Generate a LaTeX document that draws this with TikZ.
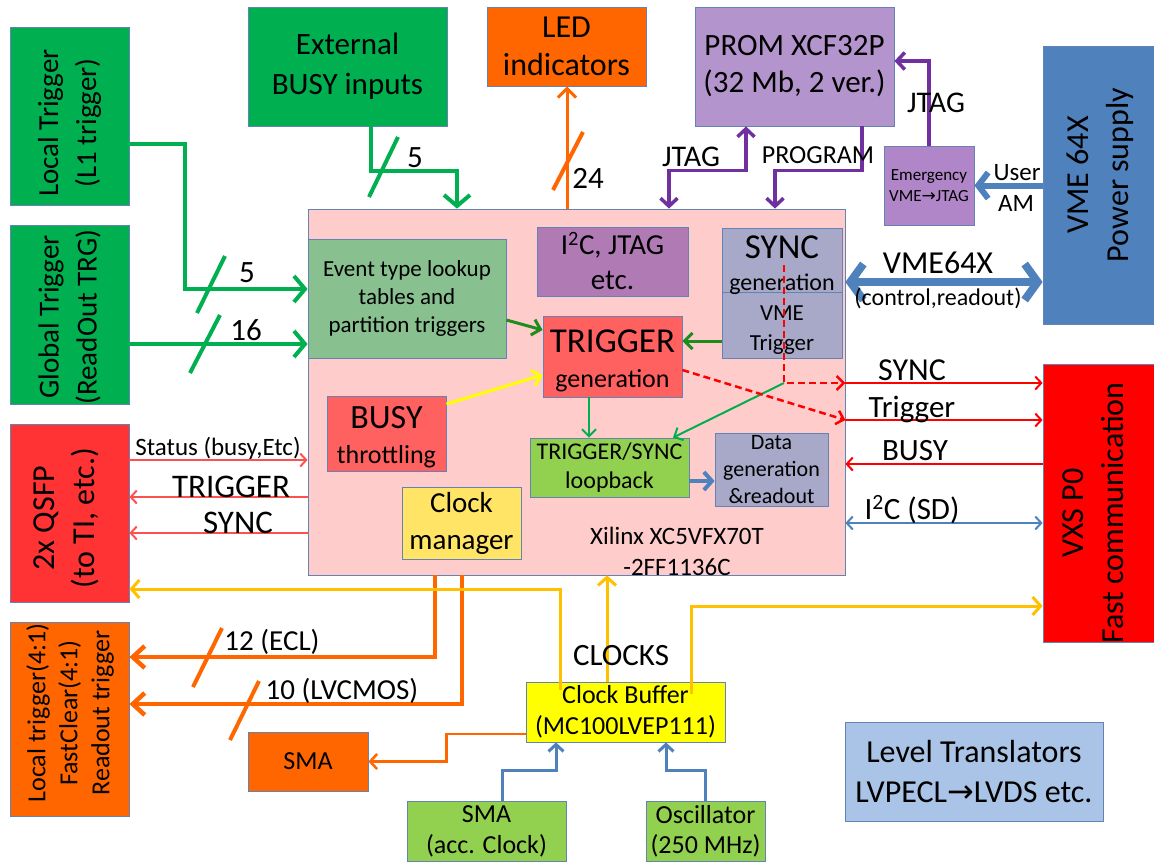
\documentclass[tikz,border=0pt]{standalone}
\usepackage{fontspec}
\setmainfont{Carlito}
\newfontfamily\dejavu{DejaVu Sans}
\usetikzlibrary{arrows.meta,calc}
\definecolor{cGreen}{RGB}{0,176,80}
\definecolor{cEvent}{RGB}{136,192,144}
\definecolor{cI2C}{RGB}{176,122,181}
\definecolor{cSync}{RGB}{168,168,200}
\definecolor{cTrig}{RGB}{255,96,96}
\definecolor{cLoop}{RGB}{146,208,80}
\definecolor{cClkM}{RGB}{255,228,102}
\definecolor{cMain}{RGB}{255,204,204}
\definecolor{cOrange}{RGB}{255,102,0}
\definecolor{cProm}{RGB}{180,148,204}
\definecolor{cEmg}{RGB}{176,134,200}
\definecolor{cVme}{RGB}{79,129,189}
\definecolor{cQsfp}{RGB}{255,51,51}
\definecolor{cVxs}{RGB}{255,0,0}
\definecolor{cYel}{RGB}{255,255,0}
\definecolor{cLvl}{RGB}{169,196,230}
\definecolor{cBorder}{RGB}{100,130,180}
\definecolor{cPurple}{RGB}{112,48,160}
\definecolor{cClk}{RGB}{255,192,0}
\definecolor{cRedL}{RGB}{255,80,80}
\definecolor{cDkGreen}{RGB}{30,140,30}
\newcommand{\myfs}[2]{\fontsize{#1}{#2}\selectfont}
\tikzset{
  box/.style={draw=cBorder, line width=0.8pt, inner sep=0pt, align=center, text=black},
  lbl/.style={inner sep=0pt, anchor=base, text=black},
  rtxt/.style={rotate=90, align=center, inner sep=0pt, text=black},
  gthick/.style={draw=cGreen, line width=4pt, arrows={-Straight Barb[length=11pt,width=26pt]}},
  gslash/.style={draw=cGreen, line width=4pt},
  oslash/.style={draw=cOrange, line width=4pt},
  oled/.style={draw=cOrange, line width=3pt, arrows={-Straight Barb[length=9pt,width=18pt]}},
  pconn/.style={draw=cPurple, line width=3.5pt, arrows={-Straight Barb[length=8pt,width=17pt]}},
  pboth/.style={draw=cPurple, line width=3.5pt, arrows={Straight Barb[length=8pt,width=17pt]-Straight Barb[length=8pt,width=17pt]}},
  bthick/.style={draw=cVme, line width=8pt, arrows={Straight Barb[length=13pt,width=36pt]-Straight Barb[length=13pt,width=36pt]}},
  bmed/.style={draw=cVme, line width=6pt, arrows={-Straight Barb[length=10pt,width=26pt]}},
  rthin/.style={draw=cVxs, line width=2pt, arrows={-Straight Barb[length=6pt,width=13pt]}},
  rleft/.style={draw=cRedL, line width=2pt, arrows={-Straight Barb[length=6pt,width=13pt]}},
  rdash/.style={draw=cVxs, line width=2.5pt, dash pattern=on 7pt off 4pt, arrows={-Straight Barb[length=7pt,width=14pt]}},
  ginner/.style={draw=cDkGreen, line width=3pt, arrows={-Straight Barb[length=8pt,width=16pt]}},
  gthin/.style={draw=cGreen, line width=2pt, arrows={-Straight Barb[length=7pt,width=14pt]}},
  yinner/.style={draw=cYel, line width=3pt, arrows={-Straight Barb[length=8pt,width=16pt]}},
  bloop/.style={draw=cVme, line width=4pt, arrows={-Straight Barb[length=8pt,width=18pt]}},
  yclk/.style={draw=cClk, line width=3pt, arrows={-Straight Barb[length=8pt,width=18pt]}},
  oecl/.style={draw=cOrange, line width=4.5pt, arrows={-Straight Barb[length=12pt,width=22pt]}},
  osma/.style={draw=cOrange, line width=2.5pt, arrows={-Straight Barb[length=7pt,width=15pt]}},
  bclk/.style={draw=cVme, line width=3pt, arrows={-Straight Barb[length=7pt,width=15pt]}},
  bi2c/.style={draw=cVme, line width=2pt, arrows={Straight Barb[length=6pt,width=13pt]-Straight Barb[length=6pt,width=13pt]}},
}
\begin{document}
\begin{tikzpicture}[x=1pt,y=-1pt]
\useasboundingbox (0,0) rectangle (1154,863);
% ---------- boxes ----------
\node[box, fill=cMain, minimum width=537pt, minimum height=366pt] (fpga) at (576.5,392) {};
\node[box, fill=cGreen, minimum width=119pt, minimum height=178pt] (lt) at (69.5,116) {};
\node[rtxt, font=\myfs{29}{38}] (lttxt) at (69.5,123) {Local Trigger\\(L1 trigger)};
\node[box, fill=cGreen, minimum width=119pt, minimum height=179pt] (gt) at (69.5,314.5) {};
\node[rtxt, font=\myfs{29}{38}] (gttxt) at (69.5,317) {Global Trigger\\(ReadOut TRG)};
\node[box, fill=cGreen, minimum width=199pt, minimum height=119pt, font=\myfs{31}{40}] (ext) at (347.5,66.5) {External\\BUSY inputs};
\node[box, fill=cOrange, minimum width=159pt, minimum height=79pt, font=\myfs{32}{38}] (led) at (566.5,46.5) {LED\\indicators};
\node[box, fill=cProm, minimum width=199pt, minimum height=119pt, font=\myfs{31}{37}] (prom) at (794.5,66.5) {PROM XCF32P\\(32 Mb, 2 ver.)};
\node[box, fill=cEmg, minimum width=90pt, minimum height=79pt, font=\myfs{17}{21}] (emg) at (929,185.5) {Emergency\\VME{\dejavu →}JTAG};
\node[box, fill=cVme, minimum width=111pt, minimum height=278pt] (vme) at (1098.5,185) {};
\node[rtxt, font=\myfs{32}{40}] (vmetxt) at (1100,175) {VME 64X\\Power supply};
% inner boxes
\node[box, fill=cEvent, minimum width=198pt, minimum height=119pt, font=\myfs{23}{28}] (ev) at (407,298.5) {Event type lookup\\tables and\\partition triggers};
\node[box, fill=cI2C, minimum width=151pt, minimum height=69pt, font=\myfs{29}{35}] (i2c) at (612.5,261.5) {I\textsuperscript{2}C, JTAG\\etc.};
\node[box, fill=cSync, minimum width=120pt, minimum height=64pt] (sync) at (782,260) {};
\node[box, fill=cSync, minimum width=120pt, minimum height=66pt] (vmet) at (782,325) {};
\node[lbl, font=\myfs{23}{30}] (vmett) at (782,320) {VME};
\node[lbl, font=\myfs{23}{30}] (vmettt) at (782,350) {Trigger};
\node[lbl, font=\myfs{35}{40}] (synct) at (782,258) {SYNC};
\node[lbl, font=\myfs{24}{28}] (syncg) at (782,290) {generation};
\node[box, fill=cTrig, minimum width=139pt, minimum height=81pt] (trig) at (612.5,356.5) {};
\node[lbl, font=\myfs{35}{40}] (trigt) at (612.5,352) {TRIGGER};
\node[lbl, font=\myfs{26}{30}] (trigg) at (612.5,387) {generation};
\node[box, fill=cTrig, minimum width=119pt, minimum height=75pt] (busy) at (386.5,433.5) {};
\node[lbl, font=\myfs{34}{40}] (busyt) at (386.5,428) {BUSY};
\node[lbl, font=\myfs{26}{30}] (busyg) at (386.5,463) {throttling};
\node[box, fill=cLoop, minimum width=159pt, minimum height=59pt, font=\myfs{24}{29}] (loop) at (609.5,467.5) {TRIGGER/SYNC\\loopback};
\node[box, fill=cSync, minimum width=113pt, minimum height=73pt, font=\myfs{22}{27}] (data) at (771.5,469.5) {Data\\generation\\\&readout};
\node[box, fill=cClkM, minimum width=119pt, minimum height=72pt, font=\myfs{29}{37}] (clkm) at (461.5,523) {Clock\\manager};
\node[inner sep=0pt, align=center, font=\myfs{25}{31}] (xil) at (677,551) {Xilinx XC5VFX70T\\-2FF1136C};
% other boxes
\node[box, fill=cQsfp, minimum width=119pt, minimum height=178pt] (qsfp) at (69.5,513) {};
\node[rtxt, font=\myfs{32}{40}] (qsfptxt) at (66,518) {2x QSFP\\(to TI, etc.)};
\node[box, fill=cVxs, minimum width=111pt, minimum height=278pt] (vxs) at (1098.5,503) {};
\node[rtxt, font=\myfs{32}{40}] (vxstxt) at (1093,513) {VXS P0\\Fast communication};
\node[box, fill=cOrange, minimum width=119pt, minimum height=194pt] (ltr) at (69.5,719) {};
\node[rtxt, font=\myfs{26}{32}] (ltrtxt) at (70,713) {Local trigger(4:1)\\FastClear(4:1)\\Readout trigger};
\node[box, fill=cOrange, minimum width=120pt, minimum height=59pt, font=\myfs{26}{30}] (sma) at (308,761.5) {SMA};
\node[box, fill=cYel, minimum width=199pt, minimum height=60pt, font=\myfs{26}{31}] (cbuf) at (625.5,712) {Clock Buffer\\(MC100LVEP111)};
\node[box, fill=cLoop, minimum width=159pt, minimum height=60pt, font=\myfs{26}{31}] (smaacc) at (486.5,831) {SMA\\(acc. Clock)};
\node[box, fill=cLoop, minimum width=119pt, minimum height=60pt, font=\myfs{26}{30}] (osc) at (705.5,831) {Oscillator\\(250 MHz)};
\node[box, fill=cLvl, minimum width=258pt, minimum height=99pt, font=\myfs{32}{40}] (lvl) at (974,771.5) {Level Translators\\LVPECL{\dejavu →}LVDS etc.};
% ---------- connectors: top left ----------
\draw[gthick] ([yshift=-28pt]lt.east) -- ++(56,0) |- ([yshift=9.5pt]ev.west);
\draw[gslash] (197,313) -- (225,256);
\node[lbl, font=\myfs{31}{36}] (n5a) at (247,282) {5};
\draw[gthick] ([yshift=-29.5pt]gt.east) -- ([yshift=-45.5pt]ev.west);
\draw[gslash] (190,373) -- (220,315);
\node[lbl, font=\myfs{31}{36}] (n16) at (246,340) {16};
\draw[gthick] ([xshift=23.5pt]ext.south) -- ++(0,45) -| ([xshift=-119.5pt]fpga.north);
\draw[gslash] (369,197) -- (398,137);
\node[lbl, font=\myfs{31}{36}] (n5b) at (415,167) {5};
\draw[oled] ([xshift=-9.5pt]fpga.north) -- ([xshift=0.5pt]led.south);
\draw[oslash] (553,190) -- (583,132);
\node[lbl, font=\myfs{31}{36}] (n24) at (588,188) {24};
% ---------- top right ----------
\draw[pboth] ([xshift=92.5pt]fpga.north) -- ++(0,-38) -| ([xshift=-48.5pt]prom.south);
\node[lbl, font=\myfs{30}{36}] (jtag1) at (691,166) {JTAG};
\draw[pconn] ([xshift=67.5pt]prom.south) -- ++(0,44) -| ([xshift=198.5pt]fpga.north);
\node[lbl, font=\myfs{26}{30}] (prog) at (818,163) {PROGRAM};
\draw[pconn] (emg.north) |- ([yshift=5.5pt]prom.east);
\node[lbl, font=\myfs{30}{36}] (jtag2) at (936,112) {JTAG};
\draw[bmed] (emg.east -| vme.west) -- (emg.east);
\node[lbl, font=\myfs{25}{30}] (user) at (1017,180) {User};
\node[lbl, font=\myfs{25}{30}] (am) at (1016,211) {AM};
\coordinate (v1) at ([yshift=110pt]fpga.east);
\draw[bthick] (v1) -- (v1 -| vme.west);
\node[lbl, font=\myfs{32}{36}] (vme64) at (938,273) {VME64X};
\node[lbl, font=\myfs{24}{28}] (ctrl) at (938,305) {(control,readout)};
% ---------- inside FPGA ----------
\draw[ginner] ([yshift=-21.5pt]ev.east) -- ([yshift=26.5pt]trig.west);
\draw[ginner] ([yshift=-16pt]vmet.west) -- ([yshift=15.5pt]trig.east);
\draw[yinner] ([yshift=29.5pt]busy.east) -- ([yshift=-18.5pt]trig.west);
\coordinate (t2) at ([xshift=-23.5pt]trig.south);
\draw[gthin] (t2) -- (t2 |- loop.north);
\coordinate (s1) at (784,383);
\draw[gthin] (s1) -- ([xshift=63.5pt]loop.north);
\coordinate (l1) at ([yshift=-13.5pt]loop.east);
\draw[bloop] (l1) -- (l1 -| data.west);
% ---------- right side ----------
\coordinate (s0) at ([xshift=2pt,yshift=-5pt]sync.center);
\draw[rdash] (s0) -- (s1) -- (s1 -| fpga.east);
\draw[rthin] (s1 -| fpga.east) -- (s1 -| vxs.west);
\node[lbl, font=\myfs{32}{36}] (syncr) at (912,380) {SYNC};
\coordinate (t1) at ([yshift=-28pt]fpga.east);
\draw[rdash] ([yshift=-13.5pt]trig.east) -- (t1);
\draw[rthin] (t1) -- (t1 -| vxs.west);
\node[lbl, font=\myfs{31}{36}] (trigr) at (912,417) {Trigger};
\coordinate (b1) at ([yshift=39pt]vxs.west);
\draw[rthin] (b1) -- (b1 -| fpga.east);
\node[lbl, font=\myfs{31}{36}] (busyr) at (915,460) {BUSY};
\coordinate (i1) at ([yshift=-20pt]vxs.west);
\draw[bi2c] (i1 -| fpga.east) -- (i1);
\node[lbl, font=\myfs{31}{36}] (i2cr) at (912,519) {I\textsuperscript{2}C (SD)};
% ---------- left side ----------
\coordinate (q1) at ([yshift=53pt]qsfp.east);
\draw[rleft] (q1) -- (q1 -| fpga.west);
\node[lbl, font=\myfs{25}{30}] (status) at (218,455) {Status (busy,Etc)};
\coordinate (q2) at ([yshift=16pt]qsfp.east);
\draw[rleft] (q2 -| fpga.west) -- (q2);
\node[lbl, font=\myfs{33}{38}] (trigl) at (231,497) {TRIGGER};
\coordinate (q3) at ([yshift=-20pt]qsfp.east);
\draw[rleft] (q3 -| fpga.west) -- (q3);
\node[lbl, font=\myfs{33}{38}] (syncl) at (238,533) {SYNC};
% ---------- bottom ----------
\draw[oecl] ([xshift=-141.5pt]fpga.south) |- ([yshift=62pt]ltr.east);
\draw[oslash] (193,687) -- (222,628);
\node[lbl, font=\myfs{29}{34}] (ecl) at (272,650) {12 (ECL)};
\draw[oecl] ([xshift=-114.5pt]fpga.south) |- ([yshift=15pt]ltr.east);
\draw[oslash] (230,740) -- (259,681);
\node[lbl, font=\myfs{29}{34}] (lvc) at (342,699) {10 (LVCMOS)};
\draw[yclk] ([xshift=-65.5pt,yshift=-8pt]cbuf.north) |- ([yshift=-76pt]qsfp.east);
\coordinate (c2) at ([xshift=-18.5pt]cbuf.north);
\draw[yclk] (c2) -- (c2 |- fpga.south);
\draw[yclk] ([xshift=65.5pt,yshift=-12pt]cbuf.north) |- ([yshift=-103pt]vxs.west);
\node[lbl, font=\myfs{31}{36}] (clocks) at (621,665) {CLOCKS};
\draw[osma] ([yshift=-22pt]cbuf.west) -- ++(-79,0) |- (sma.east);
\draw[bclk] ([xshift=15.5pt]smaacc.north) -- ++(0,-30) -| ([xshift=-69.5pt]cbuf.south);
\draw[bclk] (osc.north) -- ++(0,-30) -| ([xshift=40.5pt]cbuf.south);
\end{tikzpicture}
\end{document}
